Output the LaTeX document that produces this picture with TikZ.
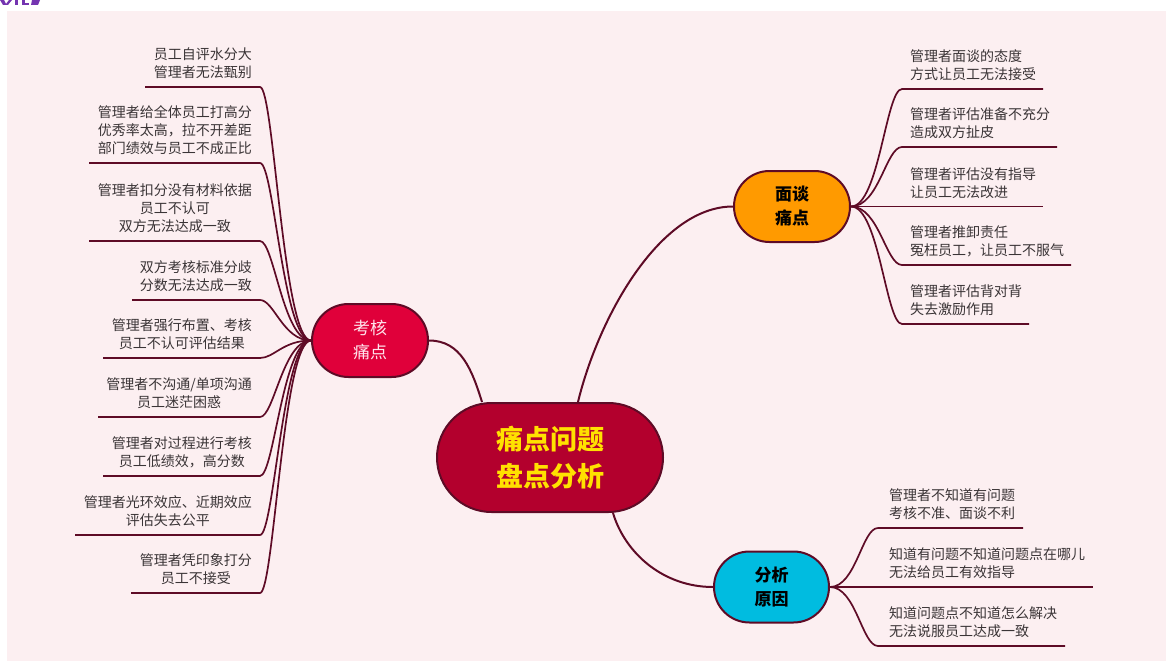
\documentclass[tikz,border=0pt]{standalone}
\usepackage{fontspec}
\newfontfamily\cjk{Noto Sans CJK SC}
\usetikzlibrary{shapes.misc}
\pgfdeclarelayer{bg}
\pgfdeclarelayer{lines}
\pgfsetlayers{bg,lines,main}
\definecolor{bgpink}{HTML}{FCEFF1}
\definecolor{linec}{HTML}{5E0B26}
\definecolor{cfill}{HTML}{B3002D}
\definecolor{khfill}{HTML}{E0003A}
\definecolor{mtfill}{HTML}{FF9A00}
\definecolor{fxfill}{HTML}{00BCE0}
\definecolor{cyellow}{HTML}{FFE100}
\definecolor{khtext}{HTML}{FFE4EC}
\definecolor{leaftext}{HTML}{3A3436}
\definecolor{topfrag}{HTML}{7434B0}
\begin{document}
\begin{tikzpicture}[x=1pt,y=-1pt,
  topic/.style={rounded rectangle, draw=linec, line width=2pt, align=center, inner sep=0pt},
  subfont/.style={font=\cjk\fontsize{17}{24}\selectfont},
  leafL/.style={font=\cjk\fontsize{14}{18}\selectfont, text=leaftext, align=center, inner sep=0pt, anchor=south east, yshift=-4pt},
  leafR/.style={font=\cjk\fontsize{14}{18}\selectfont, text=leaftext, align=left, inner sep=0pt, anchor=south west, yshift=-4pt},
  branch/.style={draw=linec, line width=2pt},
  leafline/.style={draw=linec, line width=1.7pt}]
\useasboundingbox (0,0) rectangle (1166,661);
\begin{pgfonlayer}{bg}
\fill[bgpink] (7,11) rectangle (1166,661);
\fill[topfrag] (0,0) -- (4,0) -- (6,4) -- (9,0) -- (12,0) -- (8,5) -- (3,5) -- cycle;
\fill[topfrag] (15,0) rectangle (18,5);
\fill[topfrag] (22,0) rectangle (25,5);
\fill[topfrag] (25,3) rectangle (29,5);
\fill[topfrag] (32,0) -- (40,0) -- (38,5) -- (31,5) -- cycle;
\end{pgfonlayer}

% main topic and subtopics
\node[topic, fill=cfill, minimum width=226pt, minimum height=109pt,
      font=\cjk\fontsize{27}{37}\selectfont\bfseries, text=cyellow] (c) at (550,457.5) {痛点问题\\盘点分析};
\node[topic, fill=khfill, minimum width=116pt, minimum height=73pt, subfont, text=khtext] (kh) at (370,340.5) {考核\\痛点};
\node[topic, fill=mtfill, minimum width=116pt, minimum height=71pt, subfont, text=black] (mt) at (792,206.5) {\bfseries 面谈\\\bfseries 痛点};
\node[topic, fill=fxfill, minimum width=115pt, minimum height=71pt, subfont, text=black] (fx) at (771.5,587) {\bfseries 分析\\\bfseries 原因};

% leaf coordinates
\coordinate (kA1) at (260,87);  \coordinate (kB1) at (145,87);
\coordinate (kA2) at (260,163); \coordinate (kB2) at (89,163);
\coordinate (kA3) at (260,241); \coordinate (kB3) at (89,241);
\coordinate (kA4) at (260,300); \coordinate (kB4) at (132,300);
\coordinate (kA5) at (260,358); \coordinate (kB5) at (103,358);
\coordinate (kA6) at (260,417); \coordinate (kB6) at (98,417);
\coordinate (kA7) at (260,476); \coordinate (kB7) at (103,476);
\coordinate (kA8) at (260,535); \coordinate (kB8) at (75,535);
\coordinate (kA9) at (260,593); \coordinate (kB9) at (131,593);

\coordinate (mA1) at (902,89);  \coordinate (mB1) at (1043,89);
\coordinate (mA2) at (902,147); \coordinate (mB2) at (1057,147);
\coordinate (mA3) at (902,206.5); \coordinate (mB3) at (1043,206.5);
\coordinate (mA4) at (902,265); \coordinate (mB4) at (1071,265);
\coordinate (mA5) at (902,324); \coordinate (mB5) at (1029,324);

\coordinate (fA1) at (878,528); \coordinate (fB1) at (1023,528);
\coordinate (fA2) at (878,587); \coordinate (fB2) at (1093,587);
\coordinate (fA3) at (878,646); \coordinate (fB3) at (1065,646);

\coordinate (cL) at ([xshift=-68pt]c.north);
\coordinate (cR) at ([xshift=28pt]c.north);
\coordinate (cB) at ([xshift=63pt]c.south);

\begin{pgfonlayer}{lines}
\draw[branch] (kh.east) .. controls +(32,0) and +(-10,-32) .. (cL);
\draw[branch] (cR) .. controls +(20,-83) and +(-74,0) .. (mt.west);
\draw[branch] (cB) .. controls +(12,40) and +(-50,0) .. (fx.west);
\foreach \i in {1,...,9}{
  \draw[leafline] (kh.west) .. controls +(-28,0) and +(14,0) .. (kA\i) -- (kB\i);
}
\foreach \i in {1,...,5}{
  \draw[leafline] (mt.east) .. controls +(28,0) and +(-16,0) .. (mA\i) -- (mB\i);
}
\foreach \i in {1,...,3}{
  \draw[leafline] (fx.east) .. controls +(26,0) and +(-16,0) .. (fA\i) -- (fB\i);
}
\end{pgfonlayer}

% left leaves
\node[leafL] (k1) at (252,75)  {员工自评水分大\\管理者无法甄别};
\node[leafL] (k2) at (252,151) {管理者给全体员工打高分\\优秀率太高，拉不开差距\\部门绩效与员工不成正比};
\node[leafL] (k3) at (252,229) {管理者扣分没有材料依据\\员工不认可\\双方无法达成一致};
\node[leafL] (k4) at (252,288) {双方考核标准分歧\\分数无法达成一致};
\node[leafL] (k5) at (252,346) {管理者强行布置、考核\\员工不认可评估结果};
\node[leafL] (k6) at (252,405) {管理者不沟通/单项沟通\\员工迷茫困惑};
\node[leafL] (k7) at (252,464) {管理者对过程进行考核\\员工低绩效，高分数};
\node[leafL] (k8) at (252,523) {管理者光环效应、近期效应\\评估失去公平};
\node[leafL] (k9) at (252,581) {管理者凭印象打分\\员工不接受};

% right leaves
\node[leafR] (m1) at (910,77)  {管理者面谈的态度\\方式让员工无法接受};
\node[leafR] (m2) at (910,135) {管理者评估准备不充分\\造成双方扯皮};
\node[leafR] (m3) at (910,194.5) {管理者评估没有指导\\让员工无法改进};
\node[leafR] (m4) at (910,253) {管理者推卸责任\\冤枉员工，让员工不服气};
\node[leafR] (m5) at (910,312) {管理者评估背对背\\失去激励作用};

\node[leafR] (f1) at (889,516) {管理者不知道有问题\\考核不准、面谈不利};
\node[leafR] (f2) at (889,575) {知道有问题不知道问题点在哪儿\\无法给员工有效指导};
\node[leafR] (f3) at (889,634) {知道问题点不知道怎么解决\\无法说服员工达成一致};
\end{tikzpicture}
\end{document}
